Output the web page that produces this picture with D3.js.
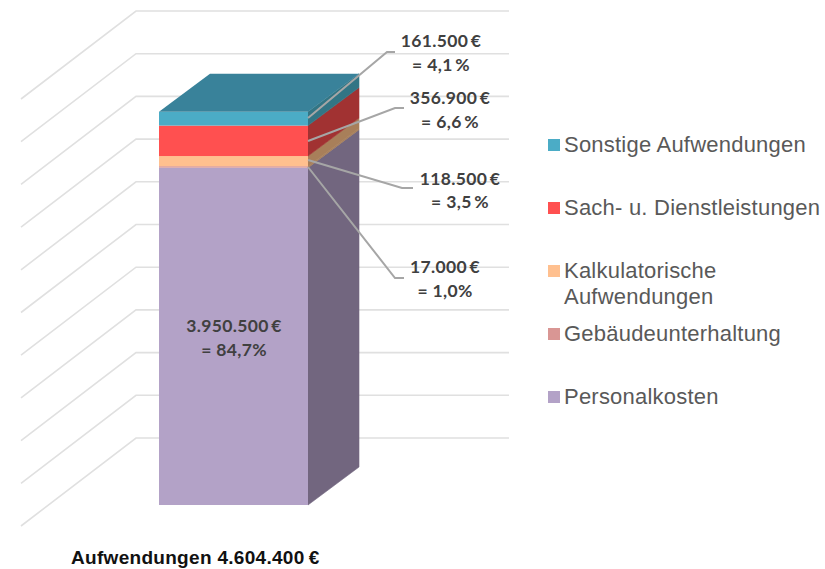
<!DOCTYPE html>
<html>
<head>
<meta charset="utf-8">
<script src="https://cdn.jsdelivr.net/npm/d3@7"></script>
<style>
html,body{margin:0;padding:0;background:#fff}
svg{display:block}
</style>
</head>
<body>
<svg id="chart" width="825" height="569"></svg>
<script>
// Data, stacked from the bottom up
const categories = ["Personalkosten", "Gebäudeunterhaltung", "Kalkulatorische Aufwendungen", "Sach- u. Dienstleistungen", "Sonstige Aufwendungen"];
const amounts = [3950500, 17000, 118500, 356900, 161500];
const valueLabels = ["3.950.500\u2009€", "17.000\u2009€", "118.500\u2009€", "356.900\u2009€", "161.500\u2009€"];
const shareLabels = ["= 84,7%", "= 1,0%", "= 3,5\u2009%", "= 6,6\u2009%", "= 4,1\u2009%"];
const axisTicks = d3.range(0, 5000001, 500000);
const chartTitle = "Aufwendungen 4.604.400\u2009€";

// Styles and layout
const frontColors = ["#B3A2C7", "#D99694", "#FFC08F", "#FF5050", "#4BACC6"];
const sideColors = ["#72667F", "#A87F5A", "#A87F5A", "#A13232", "#327585"];
const topColor = "#39829A";
const labelLayout = [
  {cx: 234, y: 332, dy: 24},
  {cx: 445, y: 273, dy: 24, from: 167, elbow: [395, 278], end: 404},
  {cx: 460, y: 185, dy: 23, from: 160, elbow: [402, 188], end: 413},
  {cx: 450, y: 104, dy: 24, from: 141, elbow: [395, 108], end: 404},
  {cx: 441, y: 47, dy: 24, from: 118, elbow: [387, 52], end: 395}
];
const legendOrder = [4, 3, 2, 1, 0];
const legendLines = {2: ["Kalkulatorische", "Aufwendungen"]};

const svg = d3.select("#chart");
const y = d3.scaleLinear().domain([0, 5000000]).range([505, 78]);
const barX = d3.scaleBand().domain(["Aufwendungen"]).range([159, 308]);
const depth = {dx: 51, dy: -38};
const wall = {dx: 115, dy: -88, backLeft: 136, right: 509};
const wallLeft = 21;

// Grid: floor-to-wall diagonals and back-wall lines
const grid = svg.append("g").attr("fill", "none").attr("stroke", "#E0E0E0").attr("stroke-width", 1.6);
grid.selectAll("path").data(axisTicks).join("path")
  .attr("d", d => {
    const yf = y(d) + 21;
    return d3.line()([[wallLeft, yf], [wall.backLeft, yf + wall.dy], [wall.right, yf + wall.dy]]);
  });

// Stack
let running = 0;
const stack = amounts.map((v, i) => {
  const s = {i, y0: y(running), y1: y(running + v)};
  running += v;
  return s;
});
const x0 = barX("Aufwendungen"), x1 = x0 + barX.bandwidth();
const poly = pts => d3.line()(pts) + "Z";
const bar = svg.append("g");
bar.selectAll("path.side").data(stack).join("path").attr("class", "side")
  .attr("fill", d => sideColors[d.i])
  .attr("stroke", d => sideColors[d.i]).attr("stroke-width", 0.6)
  .attr("d", d => poly([[x1, d.y0], [x1 + depth.dx, d.y0 + depth.dy], [x1 + depth.dx, d.y1 + depth.dy], [x1, d.y1]]));
bar.selectAll("rect.front").data(stack).join("rect").attr("class", "front")
  .attr("x", x0).attr("width", x1 - x0)
  .attr("y", d => d.y1).attr("height", d => d.y0 - d.y1)
  .attr("fill", d => frontColors[d.i]);
const topY = stack[stack.length - 1].y1;
bar.append("path").attr("fill", topColor)
  .attr("d", poly([[x0, topY], [x1, topY], [x1 + depth.dx, topY + depth.dy], [x0 + depth.dx, topY + depth.dy]]));

// Leader lines
svg.append("g").attr("fill", "none").attr("stroke", "#A6A6A6").attr("stroke-width", 2)
  .selectAll("path").data(labelLayout.filter(l => l.elbow)).join("path")
  .attr("d", l => d3.line()([[x1, l.from], l.elbow, [l.end, l.elbow[1]]]));

// Value labels
const labels = svg.append("g").attr("font-family", "Lato, Carlito, sans-serif").attr("font-weight", 700)
  .attr("font-size", 17.5).attr("letter-spacing", 0.35).attr("fill", "#404040").attr("text-anchor", "middle");
labelLayout.forEach((l, i) => {
  labels.append("text").attr("x", l.cx).attr("y", l.y).text(valueLabels[i]);
  labels.append("text").attr("x", l.cx).attr("y", l.y + l.dy).text(shareLabels[i]);
});

// Legend
const legendY = d3.scalePoint().domain(legendOrder).range([145, 397]);
const legend = svg.append("g").attr("font-family", "'Liberation Sans', Arial, sans-serif").attr("font-size", 22).attr("letter-spacing", 0.22).attr("fill", "#595959");
legendOrder.forEach(i => {
  const c = legendY(i);
  legend.append("rect").attr("x", 548).attr("y", c - 6).attr("width", 12).attr("height", 12).attr("fill", frontColors[i]);
  const lines = legendLines[i] || [categories[i]];
  const t = legend.append("text").attr("x", 564).attr("y", c + 7);
  lines.forEach((s, k) => t.append("tspan").attr("x", 564).attr("dy", k ? 26 : 0).text(s));
});

// Category title
svg.append("text").attr("x", 71).attr("y", 564)
  .attr("font-family", "'Liberation Sans', Arial, sans-serif").attr("font-weight", 700)
  .attr("font-size", 19).attr("letter-spacing", 0.3).attr("fill", "#111").text(chartTitle);
</script>
</body>
</html>
